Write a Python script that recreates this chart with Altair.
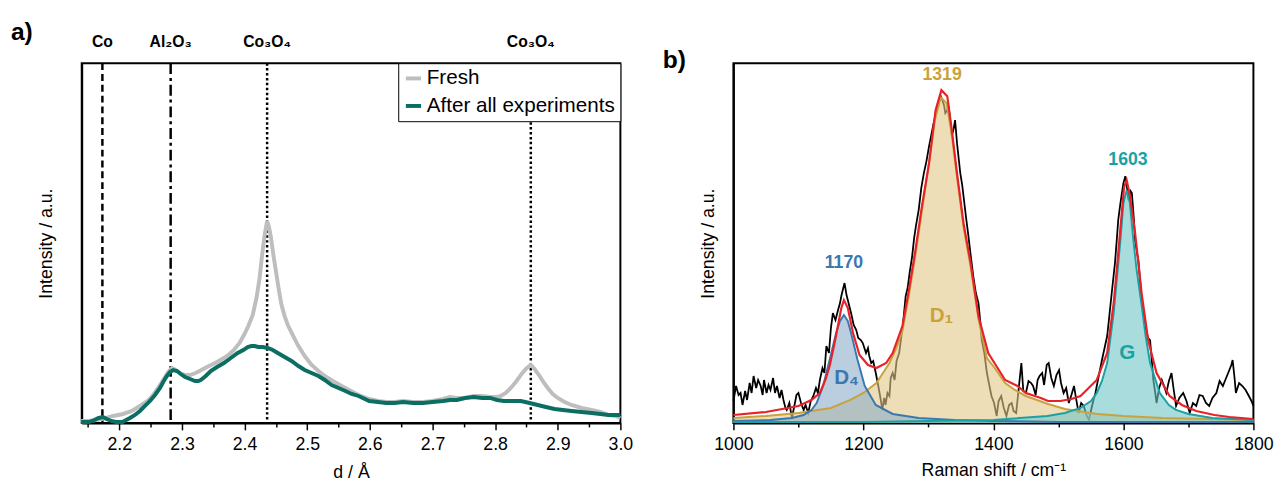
import altair as alt
import pandas as pd

FONT = "Liberation Sans"

# ---------------- panel a) ----------------
d_fresh = [2.139, 2.150, 2.163, 2.172, 2.179, 2.190, 2.206, 2.220, 2.233, 2.245, 2.254, 2.262, 2.270, 2.277,
           2.284, 2.290, 2.297, 2.305, 2.313, 2.322, 2.331, 2.340, 2.353, 2.367, 2.376, 2.383, 2.392, 2.399,
           2.406, 2.413, 2.419, 2.424, 2.428, 2.432, 2.436, 2.439, 2.442, 2.446, 2.451, 2.455, 2.459, 2.464,
           2.469, 2.477, 2.485, 2.496, 2.507, 2.518, 2.528, 2.541, 2.555, 2.567, 2.582, 2.599, 2.613, 2.626,
           2.640, 2.653, 2.669, 2.685, 2.700, 2.717, 2.728, 2.739, 2.752, 2.766, 2.779, 2.792, 2.803, 2.809,
           2.817, 2.825, 2.833, 2.841, 2.849, 2.857, 2.863, 2.870, 2.877, 2.884, 2.892, 2.900, 2.911, 2.922,
           2.938, 2.954, 2.968, 2.981, 2.992, 3.000]
i_fresh = [2, 2, 3, 4, 5, 7, 9, 12, 17, 22, 28, 35, 43, 50,
           55, 53, 50, 48, 48, 50, 53, 56, 60, 65, 69, 73, 80, 88,
           97, 108, 125, 145, 168, 188, 202, 196, 186, 168, 148, 132, 118, 107,
           98, 88, 78, 67, 58, 52, 47, 42, 37, 33, 28, 24, 22, 21,
           21, 22, 21, 21, 22, 24, 26, 25, 25, 27, 27, 26, 26, 27,
           30, 35, 41, 48, 54, 58, 54, 48, 41, 35, 29, 25, 21, 18,
           15, 13, 11, 8, 7, 5]

d_after = [2.139, 2.152, 2.160, 2.167, 2.174, 2.180, 2.187, 2.195, 2.205, 2.217, 2.225, 2.233, 2.241, 2.249,
           2.257, 2.265, 2.271, 2.276, 2.281, 2.286, 2.292, 2.298, 2.305, 2.313, 2.321, 2.326, 2.330, 2.338,
           2.346, 2.356, 2.367, 2.378, 2.389, 2.398, 2.405, 2.411, 2.416, 2.422, 2.429, 2.437, 2.445, 2.453,
           2.464, 2.475, 2.486, 2.496, 2.507, 2.518, 2.528, 2.539, 2.550, 2.561, 2.571, 2.582, 2.599, 2.613,
           2.626, 2.640, 2.653, 2.669, 2.685, 2.700, 2.717, 2.728, 2.739, 2.752, 2.766, 2.779, 2.792, 2.803,
           2.814, 2.828, 2.841, 2.855, 2.868, 2.881, 2.895, 2.908, 2.922, 2.938, 2.954, 2.968, 2.981, 2.992,
           3.000]
i_after = [1, 1, 3, 5, 6, 4, 2, 1, 1, 5, 8, 12, 17, 22,
           28, 35, 42, 47, 51, 53, 52, 49, 46, 44, 42, 42, 43, 47,
           52, 56, 60, 65, 70, 73, 76, 77, 77, 76, 76, 75, 73, 70,
           66, 62, 57, 53, 50, 47, 43, 38, 35, 32, 29, 27, 22, 21,
           20, 20, 21, 20, 20, 21, 22, 23, 23, 25, 26, 25, 25, 23,
           22, 22, 22, 20, 18, 16, 14, 13, 12, 11, 10, 9, 8, 8,
           8]

series_names = ["Fresh", "After all experiments"]
series_colors = ["#BEBEBE", "#0B6E63"]

ref_d = [2.173, 2.282, 2.436, 2.857]
ref_label = ["Co", "Al₂O₃", "Co₃O₄", "Co₃O₄"]
ref_style = ["dash", "dashdot", "dot", "dot"]

a_ticks = [2.15, 2.2, 2.25, 2.3, 2.35, 2.4, 2.45, 2.5, 2.55, 2.6, 2.65, 2.7, 2.75, 2.8, 2.85, 2.9, 2.95, 3.0]

# ---------------- panel b) ----------------
raw_w = [1000, 1004, 1008, 1011, 1014, 1018, 1021, 1025, 1028, 1031, 1035, 1038, 1042, 1045, 1047, 1051, 1054,
         1057, 1061, 1064, 1067, 1071, 1074, 1077, 1080, 1082, 1086, 1090, 1094, 1097, 1100, 1104, 1108, 1111,
         1115, 1119, 1123, 1127, 1130, 1133, 1137, 1140, 1143, 1147, 1150, 1153, 1157, 1161, 1164, 1166, 1169,
         1171, 1174, 1176, 1179, 1181, 1185, 1189, 1192, 1196, 1199, 1204, 1207, 1209, 1212, 1215, 1219, 1222,
         1224, 1227, 1229, 1232, 1234, 1237, 1240, 1242, 1245, 1248, 1251, 1255, 1258, 1261, 1265, 1268, 1271,
         1275, 1278, 1281, 1285, 1289, 1293, 1297, 1301, 1305, 1308, 1312, 1316, 1319, 1321, 1324, 1326, 1329,
         1331, 1334, 1336, 1339, 1341, 1344, 1347, 1349, 1352, 1354, 1358, 1361, 1365, 1369, 1373, 1377, 1380,
         1382, 1386, 1390, 1393, 1397, 1401, 1405, 1408, 1412, 1416, 1420, 1424, 1428, 1431, 1435, 1439, 1443,
         1446, 1450, 1454, 1458, 1461, 1465, 1468, 1471, 1475, 1478, 1482, 1485, 1489, 1493, 1497, 1501, 1504,
         1508, 1512, 1516, 1520, 1524, 1527, 1531, 1535, 1539, 1543, 1547, 1551, 1554, 1557, 1559, 1563, 1567,
         1571, 1575, 1578, 1582, 1585, 1587, 1590, 1592, 1595, 1597, 1600, 1603, 1605, 1608, 1611, 1613, 1616,
         1618, 1621, 1623, 1626, 1628, 1632, 1636, 1638, 1641, 1644, 1646, 1649, 1651, 1655, 1659, 1662, 1666,
         1670, 1674, 1677, 1681, 1686, 1692, 1697, 1702, 1707, 1712, 1717, 1722, 1727, 1732, 1737, 1743, 1748,
         1753, 1758, 1763, 1766, 1768, 1771, 1773, 1778, 1783, 1788, 1793, 1797, 1800]
raw_i = [22, 37, 28, 30, 18, 32, 23, 40, 30, 47, 35, 43, 37, 28, 43, 30, 38,
         33, 45, 30, 37, 25, 33, 23, 15, 13, 20, 5, 18, 28, 30, 20, 13, 18,
         10, 22, 27, 35, 30, 43, 55, 50, 77, 70, 95, 110, 103, 113, 120, 127, 135,
         140, 128, 123, 115, 110, 98, 93, 85, 83, 80, 70, 75, 67, 60, 62, 50, 40,
         33, 22, 13, 25, 18, 30, 27, 45, 50, 43, 62, 70, 85, 100, 127, 135, 150,
         167, 185, 198, 213, 235, 250, 262, 277, 290, 300, 310, 320, 327, 324, 318, 310, 313,
         317, 300, 287, 295, 303, 280, 262, 250, 238, 227, 205, 190, 168, 147, 130, 120, 100,
         83, 70, 50, 40, 27, 20, 7, 22, 27, 15, 7, 18, 20, 12, 10, 35, 60,
         32, 30, 42, 40, 37, 28, 43, 47, 50, 38, 58, 60, 45, 37, 48, 53, 40,
         30, 35, 20, 28, 37, 25, 10, 20, 17, 8, 3, 15, 23, 30, 37, 50, 63,
         75, 87, 105, 130, 148, 160, 185, 203, 218, 227, 240, 247, 238, 223, 232, 230, 205,
         183, 170, 163, 140, 123, 105, 90, 85, 83, 60, 43, 30, 20, 35, 43, 38, 30,
         42, 50, 35, 17, 25, 30, 22, 10, 20, 17, 28, 27, 20, 17, 25, 30, 42,
         37, 45, 53, 58, 63, 45, 30, 40, 37, 33, 27, 22, 17]

fit_w = [1000, 1050, 1100, 1120, 1133, 1142, 1148, 1155, 1161, 1166, 1170, 1176, 1184, 1194, 1207, 1220, 1235,
         1245, 1260, 1270, 1280, 1290, 1301, 1311, 1320, 1329, 1336, 1344, 1354, 1365, 1377, 1392, 1418, 1437,
         1450, 1473, 1484, 1503, 1520, 1534, 1559, 1575, 1585, 1590, 1595, 1601, 1605, 1610, 1618, 1628, 1638,
         1651, 1671, 1690, 1712, 1740, 1763, 1800]
fit_i = [8, 11, 17, 23, 30, 44, 57, 78, 98, 115, 123, 115, 90, 68, 58, 55, 60,
         70, 97, 133, 173, 217, 260, 313, 333, 327, 293, 250, 200, 160, 107, 70, 43, 37,
         30, 25, 22, 22, 24, 27, 43, 70, 120, 155, 192, 236, 243, 228, 190, 130, 83,
         50, 27, 18, 12, 8, 6, 4]

d1_w = [1000, 1050, 1100, 1150, 1180, 1200, 1220, 1240, 1250, 1260, 1270, 1280, 1290, 1300, 1310, 1319, 1328,
        1336, 1344, 1354, 1365, 1377, 1390, 1402, 1418, 1433, 1450, 1484, 1510, 1560, 1600, 1660, 1730, 1800]
d1_i = [5, 7, 10, 15, 23, 30, 40, 60, 74, 92, 128, 168, 212, 256, 303, 326, 320,
        288, 246, 196, 156, 104, 65, 55, 40, 33, 27, 19, 14, 9, 7, 5, 4, 3]

d4_w = [1000, 1057, 1090, 1108, 1120, 1128, 1138, 1148, 1158, 1164, 1170, 1176, 1181, 1191, 1202, 1219, 1245,
        1285, 1340, 1400, 1500, 1650, 1800]
d4_i = [2, 3, 5, 8, 13, 20, 37, 63, 90, 102, 108, 102, 90, 63, 37, 18, 9,
        5, 3, 2, 1, 1, 1]

g_w = [1000, 1200, 1400, 1483, 1510, 1534, 1550, 1559, 1567, 1575, 1585, 1590, 1595, 1600, 1605, 1610, 1615,
       1620, 1628, 1634, 1641, 1656, 1670, 1681, 1700, 1737, 1800]
g_i = [1, 1, 3, 7, 10, 15, 22, 30, 42, 60, 110, 145, 180, 220, 233, 220, 185,
       155, 118, 88, 60, 30, 18, 13, 9, 5, 3]

comp_names = ["D1", "D4", "G"]
comp_line = ["#C9A23E", "#3A78AE", "#1AA2A2"]
comp_fill = ["#E3C887", "#8EAECB", "#6FC6C6"]

lbl_w = [1170, 1321, 1607, 1174, 1320, 1606]
lbl_i = [160, 348, 263, 45, 107, 70]
lbl_text = ["1170", "1319", "1603", "D₄", "D₁", "G"]
lbl_comp = ["D4", "D1", "G", "D4", "D1", "G"]
lbl_size = [18, 18, 18, 21, 21, 21]

b_ticks = [1000, 1100, 1200, 1300, 1400, 1500, 1600, 1700, 1800]

# ---------------- build tables ----------------
a_df = pd.DataFrame({
    "d": d_fresh + d_after,
    "I": i_fresh + i_after,
    "series": [series_names[0]] * len(d_fresh) + [series_names[1]] * len(d_after),
})
ref_df = pd.DataFrame({"d": ref_d, "label": ref_label, "style": ref_style})

raw_df = pd.DataFrame({"w": raw_w, "I": raw_i})
fit_df = pd.DataFrame({"w": fit_w, "I": fit_i})
comp_df = pd.DataFrame({
    "w": d1_w + d4_w + g_w,
    "I": d1_i + d4_i + g_i,
    "comp": ["D1"] * len(d1_w) + ["D4"] * len(d4_w) + ["G"] * len(g_w),
})
lbl_df = pd.DataFrame({"w": lbl_w, "I": lbl_i, "text": lbl_text, "comp": lbl_comp, "size": lbl_size})

H = 360          # intensity range (a.u.)
PH = 366         # panel height in px

# ---------------- panel a ----------------
major_a = "round(datum.value*100) % 10 == 0"
xa = alt.X("d:Q", scale=alt.Scale(domain=[2.14, 3.0], nice=False, zero=False),
           axis=alt.Axis(title="d / Å", values=a_ticks, labelFlush=False, labelOverlap=False, grid=False,
                         labelExpr=f"({major_a}) ? format(datum.value, '.1f') : ''",
                         tickSize={"condition": {"test": major_a, "value": 7}, "value": 4},
                         labelPadding=6, titlePadding=10))
ya = alt.Y("I:Q", scale=alt.Scale(domain=[0, H], nice=False),
           axis=alt.Axis(title="Intensity / a.u.", labels=False, ticks=False, grid=False, titlePadding=27))
col = alt.Color("series:N", scale=alt.Scale(domain=series_names, range=series_colors),
                legend=alt.Legend(title=None, orient="top-right", offset=0, fillColor="white",
                                  strokeColor="black", padding=5, labelFontSize=21,
                                  labelFont=FONT, symbolType="stroke", symbolStrokeWidth=4,
                                  symbolSize=240, rowPadding=6, labelOffset=3, labelLimit=400))

base_a = alt.Chart(a_df)
fresh = base_a.transform_filter(alt.datum.series == series_names[0]).mark_line(strokeWidth=4).encode(x=xa, y=ya, color=col)
after = base_a.transform_filter(alt.datum.series == series_names[1]).mark_line(strokeWidth=4).encode(x=xa, y=ya, color=col)
rules = alt.Chart(ref_df).mark_rule(strokeWidth=2.5, color="black").encode(
    x=xa,
    strokeDash=alt.StrokeDash("style:N", scale=alt.Scale(domain=["dash", "dashdot", "dot"],
                                                         range=[[7, 4], [11, 4, 3, 4], [2.5, 2.5]]), legend=None))
toplbl = alt.Chart(ref_df).mark_text(font=FONT, fontSize=16, fontWeight="bold", baseline="bottom").encode(
    x=xa, y=alt.value(-13), text="label:N")

panel_a = alt.layer(rules, fresh, after, toplbl).properties(
    width=548, height=PH,
    title=alt.TitleParams("a)", anchor="start", frame="group", dx=-72, fontSize=25, fontWeight="bold",
                          font=FONT, offset=-10))

# ---------------- panel b ----------------
major_b = "datum.value % 200 == 0"
xb = alt.X("w:Q", scale=alt.Scale(domain=[1000, 1800], nice=False, zero=False),
           axis=alt.Axis(title="Raman shift / cm⁻¹", values=b_ticks, labelFlush=False, labelOverlap=False,
                         grid=False, labelExpr=f"{major_b} ? datum.value : ''",
                         tickSize={"condition": {"test": major_b, "value": 7}, "value": 4},
                         labelPadding=6, titlePadding=8))
yb = alt.Y("I:Q", scale=alt.Scale(domain=[0, H], nice=False), stack=None,
           axis=alt.Axis(title="Intensity / a.u.", labels=False, ticks=False, grid=False, titlePadding=16))

raw = alt.Chart(raw_df).mark_line(color="black", strokeWidth=1.8).encode(x=xb, y=yb)
areas = alt.Chart(comp_df).mark_area(opacity=0.6).encode(
    x=xb, y=yb, color=alt.Color("comp:N", scale=alt.Scale(domain=comp_names, range=comp_fill), legend=None))
lines = alt.Chart(comp_df).mark_line(strokeWidth=2).encode(
    x=xb, y=yb, stroke=alt.Stroke("comp:N", scale=alt.Scale(domain=comp_names, range=comp_line), legend=None))
fit = alt.Chart(fit_df).mark_line(color="#E8222B", strokeWidth=2.2).encode(x=xb, y=yb)
labels = alt.Chart(lbl_df).mark_text(font=FONT, fontWeight="bold").encode(
    x=xb, y=yb, text="text:N",
    size=alt.Size("size:Q", scale=None, legend=None),
    fill=alt.Fill("comp:N", scale=alt.Scale(domain=comp_names, range=comp_line), legend=None))

panel_b = alt.layer(raw, areas, lines, fit, labels).resolve_scale(color="independent").properties(
    width=529, height=PH,
    title=alt.TitleParams("b)", anchor="start", frame="group", dx=-72, fontSize=25, fontWeight="bold",
                          font=FONT, offset=-10))

chart = alt.hconcat(panel_a, panel_b, spacing=28).resolve_scale(
    color="independent", stroke="independent", fill="independent", strokeDash="independent",
    x="independent", y="independent"
).resolve_legend(color="independent").properties(
    padding={"left": 2, "top": 7, "right": 2, "bottom": 2}, background="white"
).configure_view(stroke="black", strokeWidth=2).configure_axis(
    labelFont=FONT, titleFont=FONT, labelFontSize=18, titleFontSize=18, labelColor="black",
    titleColor="black", titleFontWeight="normal", domainColor="black", domainWidth=2,
    tickColor="black", tickWidth=1.5
)

chart.save("out.html", embed_options={"renderer": "svg", "actions": False})
